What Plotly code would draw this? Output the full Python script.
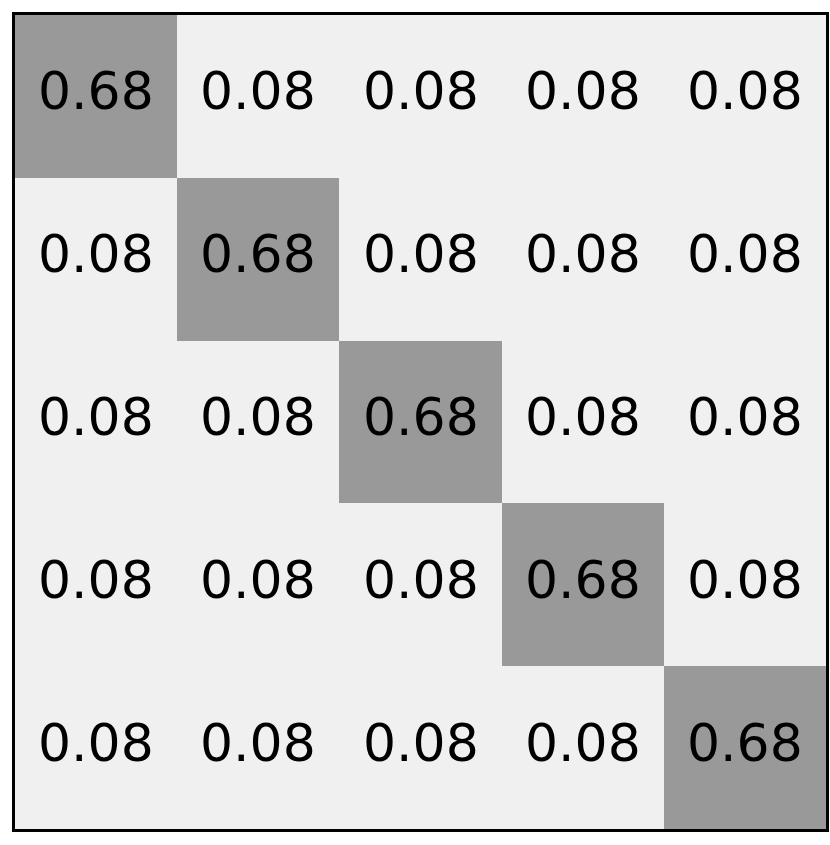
"""
Confusion-style matrix heatmap, 5x5 with annotated cells.
"""

import plotly.graph_objects as go

# ---------- data ----------
labels = ["0", "1", "2", "3", "4"]
row_0 = [0.68, 0.08, 0.08, 0.08, 0.08]
row_1 = [0.08, 0.68, 0.08, 0.08, 0.08]
row_2 = [0.08, 0.08, 0.68, 0.08, 0.08]
row_3 = [0.08, 0.08, 0.08, 0.68, 0.08]
row_4 = [0.08, 0.08, 0.08, 0.08, 0.68]
matrix = [row_0, row_1, row_2, row_3, row_4]

fig = go.Figure(
    go.Heatmap(
        z=matrix,
        x=labels,
        y=labels,
        colorscale=[[0, "#f0f0f0"], [1, "#999999"]],
        showscale=False,
        hoverinfo="skip",
    )
)

# cell labels as annotations so they can sit slightly above centre
for r, row in enumerate(matrix):
    for c, val in enumerate(row):
        fig.add_annotation(
            x=labels[c], y=labels[r], text=f"{val:.2f}",
            showarrow=False, yshift=5,
            font=dict(family="DejaVu Sans", size=52, color="black"),
        )

fig.update_xaxes(
    showticklabels=False, ticks="", showgrid=False, zeroline=False,
    showline=True, mirror=True, linecolor="black", linewidth=2.5,
)
fig.update_yaxes(
    autorange="reversed",
    showticklabels=False, ticks="", showgrid=False, zeroline=False,
    showline=True, mirror=True, linecolor="black", linewidth=2.5,
)
fig.update_layout(
    width=830, height=845,
    margin=dict(l=15, r=1, t=15, b=16),
    paper_bgcolor="white", plot_bgcolor="white",
)

# drop the default 8px body margin so the page is exactly the figure size
fig.write_html(
    "out.html",
    config={"displayModeBar": False},
    post_script="document.body.style.margin='0';document.body.style.overflow='hidden';",
)
